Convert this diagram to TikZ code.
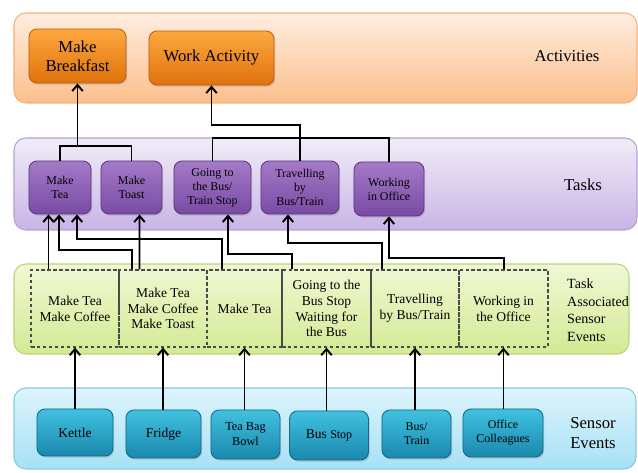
\documentclass[tikz,border=0pt]{standalone}
\usepackage{fontspec}
\setmainfont{Liberation Serif}
\usepackage{xcolor}
\usetikzlibrary{calc,shadows,arrows.meta}

\definecolor{actBandHi}{HTML}{FEEDE0}
\definecolor{actBandLo}{HTML}{FBBF8C}
\definecolor{actBandLine}{HTML}{F6B07C}
\definecolor{actHi}{HTML}{FDA83F}
\definecolor{actLo}{HTML}{E0720C}
\definecolor{actLine}{HTML}{B8620F}
\definecolor{taskBandHi}{HTML}{F1ECF8}
\definecolor{taskBandLo}{HTML}{C9B4E5}
\definecolor{taskBandLine}{HTML}{B5A1D2}
\definecolor{taskHi}{HTML}{A57AC7}
\definecolor{taskLo}{HTML}{774BA3}
\definecolor{taskLine}{HTML}{5B3A84}
\definecolor{evBandHi}{HTML}{F0F8D4}
\definecolor{evBandLo}{HTML}{D3EA93}
\definecolor{evBandLine}{HTML}{B8D47A}
\definecolor{evLine}{HTML}{4A4A4A}
\definecolor{sensBandHi}{HTML}{DDF4FC}
\definecolor{sensBandLo}{HTML}{A6E1F5}
\definecolor{sensBandLine}{HTML}{89C8E1}
\definecolor{sensHi}{HTML}{40C1E0}
\definecolor{sensLo}{HTML}{1A88AC}
\definecolor{sensLine}{HTML}{15698A}

\begin{document}
\begin{tikzpicture}[x = 0.2mm, y = -0.2mm,
        band/.style = {rounded corners = 2.4mm, line width = 0.6pt},
        wh/.style 2 args = {minimum width = #1*0.2mm, minimum height = #2*0.2mm},
        box/.style = {rectangle, rounded corners = 1.6mm, draw, line width = 0.5pt, align = center, inner sep = 1pt,
            drop shadow = {opacity = 0.35, shadow xshift = 0.7pt, shadow yshift = -0.9pt}},
        actbox/.style = {box, draw = actLine, top color = actHi, bottom color = actLo, font = \fontsize{9.5}{11}\selectfont},
        taskbox/.style = {box, draw = taskLine, top color = taskHi, bottom color = taskLo, font = \fontsize{6.8}{8}\selectfont},
        evbox/.style = {rectangle, draw = evLine, dash pattern = on 2pt off 1.4pt, line width = 0.7pt, align = center,
            inner sep = 1pt, font = \fontsize{7.7}{9}\selectfont},
        sensbox/.style = {box, draw = sensLine, top color = sensHi, bottom color = sensLo, font = \fontsize{7.7}{9}\selectfont},
        lbl/.style = {align = center, font = \fontsize{9.5}{11.3}\selectfont},
        link/.style = {line width = 1.1pt},
        arr/.style = {link, -{Straight Barb[length = 3.5pt, width = 6pt]}}]
            \useasboundingbox (0, 0) rectangle (638, 473);

            \draw[band, draw = actBandLine, top color = actBandHi, bottom color = actBandLo] (14, 13) rectangle (637, 103);
            \draw[band, draw = taskBandLine, top color = taskBandHi, bottom color = taskBandLo] (14, 138) rectangle (637, 230);
            \draw[band, draw = evBandLine, top color = evBandHi, bottom color = evBandLo] (14, 264) rectangle (629, 354);
            \draw[band, draw = sensBandLine, top color = sensBandHi, bottom color = sensBandLo] (14, 388) rectangle (636, 469);

            \node[lbl] (actlbl) at (567, 56) {Activities};
            \node[lbl] (tasklbl) at (583, 185) {Tasks};
            \node[lbl, align = left, anchor = west, font = \fontsize{8}{10}\selectfont] (evlbl) at (561, 310) {Task\\Associated\\Sensor\\Events};
            \node[lbl] (senslbl) at (593, 433) {Sensor\\Events};

            \node[actbox, wh = {97}{54}] (bfast) at (77.5, 56) {Make\\Breakfast};
            \node[actbox, wh = {125}{54}] (work) at (211.5, 58) {Work Activity};

            \node[taskbox, wh = {62}{53}] (tea) at (60, 187.5) {Make\\Tea};
            \node[taskbox, wh = {61}{53}] (toast) at (131.5, 187.5) {Make\\Toast};
            \node[taskbox, wh = {77}{53}] (gobus) at (212.5, 187.5) {Going to\\the Bus/\\Train Stop};
            \node[taskbox, wh = {78}{53}] (travel) at (300, 187.5) {Travelling\\by\\Bus/Train};
            \node[taskbox, wh = {70}{54}] (office) at (389, 189) {Working\\in Office};

            \node[evbox, wh = {88}{77}] (ev1) at (75, 308.5) {Make Tea\\Make Coffee};
            \node[evbox, wh = {88}{77}] (ev2) at (163, 308.5) {Make Tea\\Make Coffee\\Make Toast};
            \node[evbox, wh = {75}{77}] (ev3) at (244.5, 308.5) {Make Tea};
            \node[evbox, wh = {89}{77}] (ev4) at (326.5, 308.5) {Going to the\\Bus Stop\\Waiting for\\the Bus};
            \node[evbox, wh = {88}{77}] (ev5) at (415, 308.5) {Travelling\\by Bus/Train};
            \node[evbox, wh = {89}{77}] (ev6) at (503.5, 308.5) {Working in\\the Office};

            \node[sensbox, wh = {76}{47}] (kettle) at (75, 432.5) {Kettle};
            \node[sensbox, wh = {75}{48}] (fridge) at (163.5, 434) {Fridge};
            \node[sensbox, wh = {69}{49}, font = \fontsize{7}{8.5}\selectfont] (teabag) at (245.5, 434.5) {Tea Bag\\Bowl};
            \node[sensbox, wh = {79}{49}] (busstop) at (329, 435.5) {Bus {\fontsize{6.8}{8}\selectfont Stop}};
            \node[sensbox, wh = {69}{48}, font = \fontsize{6.8}{8}\selectfont] (bustrain) at (416.5, 434) {Bus/\\Train};
            \node[sensbox, wh = {80}{48}, font = \fontsize{6.8}{8}\selectfont] (colleagues) at (503, 433) {Office\\Colleagues};

            \draw[link] (tea.north) -- ++(0, -15) -| (toast.north);
            \draw[arr] ($(bfast.south)+(0, 63)$) -- (bfast.south);
            \draw[arr] (travel.north) -- ++(0, -36) -| (work.south);
            \draw[link] (gobus.north) -- ++(0, -23) -| (office.north);

            \draw[arr] ($(ev1.north)+(-26.5, 0)$) -- ($(tea.south)+(-11.5, 0)$);
            \draw[arr] ($(ev2.north)+(-31, 0)$) |- ($(tea.south)+(-1, 36)$) -- ($(tea.south)+(-1, 0)$);
            \draw[arr] ($(ev2.north)+(-23.5, 0)$) -- ($(toast.south)+(8, 0)$);
            \draw[arr] ($(ev3.north)+(-22.5, 0)$) |- ($(tea.south)+(17, 25)$) -- ($(tea.south)+(17, 0)$);
            \draw[arr] ($(ev4.north)+(-34.5, 0)$) |- ($(gobus.south)+(15.5, 40)$) -- ($(gobus.south)+(15.5, 0)$);
            \draw[arr] ($(ev5.north)+(-33, 0)$) |- ($(travel.south)+(-12, 29)$) -- ($(travel.south)+(-12, 0)$);
            \draw[arr] ($(ev6.north)+(0.5, 0)$) |- ($(office.south)+(0, 42)$) -- (office.south);

            \draw[arr] (ev1.south |- kettle.north) -- (ev1.south);
            \draw[arr] (ev2.south |- fridge.north) -- (ev2.south);
            \draw[arr] (ev3.south |- teabag.north) -- (ev3.south);
            \draw[arr] (ev4.south |- busstop.north) -- (ev4.south);
            \draw[arr] (ev5.south |- bustrain.north) -- (ev5.south);
            \draw[arr] (ev6.south |- colleagues.north) -- (ev6.south);
        \end{tikzpicture}
\end{document}
